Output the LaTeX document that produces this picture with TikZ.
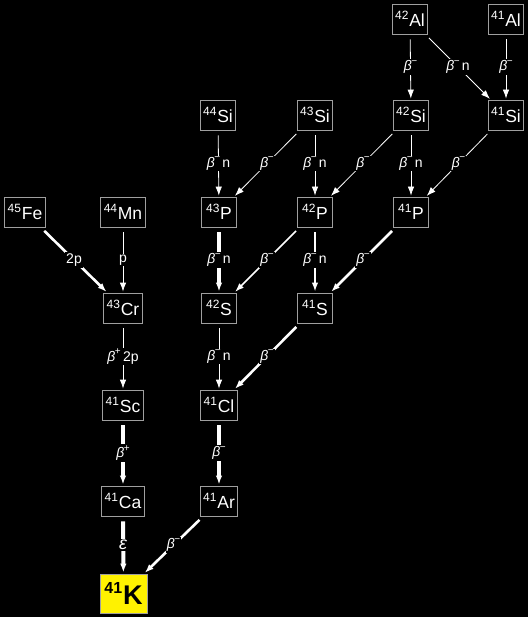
\documentclass[tikz,border=0pt]{standalone}
\usepackage{fontspec}
\setmainfont{Liberation Sans}
\usetikzlibrary{arrows.meta}
\newcommand{\nuc}[2]{\raisebox{0.4em}{\fontsize{12}{12}\selectfont #1}\kern0.8pt #2}
\newcommand{\bminus}{\textit{β}\kern-0.5pt\raisebox{0.45em}{\fontsize{10}{10}\selectfont −}}
\newcommand{\bplus}{\textit{β}\kern-0.5pt\raisebox{0.45em}{\fontsize{10}{10}\selectfont +}}
\begin{document}
\begin{tikzpicture}[x=1pt,y=-1pt,
  nucbox/.style={draw=gray!75, line width=0.8pt, fill=black, text=white, minimum height=30pt, minimum width=35pt, inner xsep=3pt, font=\fontsize{17.5}{17.5}\selectfont},
  lbl/.style={fill=black, text=white, inner sep=1.2pt, font=\fontsize{14}{14}\selectfont},
  dec/.style={draw=white, -{Latex[length=9pt,width=6.5pt]}, shorten <=5pt, shorten >=1pt},
  w1/.style={line width=0.8pt},
  w2/.style={line width=1.6pt},
  w3/.style={line width=2.6pt},
  w4/.style={line width=4pt}]
\fill[black] (0,0) rectangle (528,617);
\useasboundingbox (0,0) rectangle (528,617);
% nodes
\node[nucbox] (Al42) at (410,19) {\nuc{42}{Al}};
\node[nucbox] (Al41) at (506,19) {\nuc{41}{Al}};
\node[nucbox] (Si44) at (218,115) {\nuc{44}{Si}};
\node[nucbox] (Si43) at (315,115) {\nuc{43}{Si}};
\node[nucbox] (Si42) at (411,115) {\nuc{42}{Si}};
\node[nucbox] (Si41) at (506,115) {\nuc{41}{Si}};
\node[nucbox] (Fe45) at (25,212) {\nuc{45}{Fe}};
\node[nucbox] (Mn44) at (123,212) {\nuc{44}{Mn}};
\node[nucbox] (P43) at (219,212) {\nuc{43}{P}};
\node[nucbox] (P42) at (315,212) {\nuc{42}{P}};
\node[nucbox] (P41) at (411,212) {\nuc{41}{P}};
\node[nucbox] (Cr43) at (123,308) {\nuc{43}{Cr}};
\node[nucbox] (S42) at (219,308) {\nuc{42}{S}};
\node[nucbox] (S41) at (315,308) {\nuc{41}{S}};
\node[nucbox] (Sc41) at (123,405) {\nuc{41}{Sc}};
\node[nucbox] (Cl41) at (219,405) {\nuc{41}{Cl}};
\node[nucbox] (Ca41) at (123,501) {\nuc{41}{Ca}};
\node[nucbox] (Ar41) at (219,501) {\nuc{41}{Ar}};
\node[draw=gray!75, line width=0.8pt, fill=yellow, text=black, minimum width=47pt, minimum height=39pt, inner sep=2pt, font=\bfseries\fontsize{27}{27}\selectfont] (K41) at (123.5,593.5) {\raisebox{0.42em}{\fontsize{16}{16}\selectfont 41}\kern0.8pt K};
% edges
\draw[dec,w1] (Al42) -- node[lbl]{\bminus} (Si42);
\draw[dec,w1] (Al42) -- node[lbl]{\bminus\,n} (Si41);
\draw[dec,w1] (Al41) -- node[lbl]{\bminus} (Si41);
\draw[dec,w1] (Si44) -- node[lbl]{\bminus\,n} (P43);
\draw[dec,w1] (Si43) -- node[lbl]{\bminus} (P43);
\draw[dec,w1] (Si43) -- node[lbl]{\bminus\,n} (P42);
\draw[dec,w1] (Si42) -- node[lbl]{\bminus} (P42);
\draw[dec,w1] (Si42) -- node[lbl]{\bminus\,n} (P41);
\draw[dec,w1] (Si41) -- node[lbl]{\bminus} (P41);
\draw[dec,w3] (Fe45) -- node[lbl]{2p} (Cr43);
\draw[dec,w1] (Mn44) -- node[lbl]{p} (Cr43);
\draw[dec,w4] (P43) -- node[lbl]{\bminus\,n} (S42);
\draw[dec,w2] (P42) -- node[lbl]{\bminus} (S42);
\draw[dec,w2] (P42) -- node[lbl]{\bminus\,n} (S41);
\draw[dec,w3] (P41) -- node[lbl]{\bminus} (S41);
\draw[dec,w1] (Cr43) -- node[lbl]{\bplus\,2p} (Sc41);
\draw[dec,w1] (S42) -- node[lbl]{\bminus\,n} (Cl41);
\draw[dec,w3] (S41) -- node[lbl]{\bminus} (Cl41);
\draw[dec,w4] (Sc41) -- node[lbl]{\bplus} (Ca41);
\draw[dec,w4] (Cl41) -- node[lbl]{\bminus} (Ar41);
\draw[dec,w4] (Ca41) -- node[lbl,font=\fontsize{18}{18}\selectfont]{\textit{ε}} (K41);
\draw[dec,w3] (Ar41) -- node[lbl]{\bminus} (K41);
\end{tikzpicture}
\end{document}
